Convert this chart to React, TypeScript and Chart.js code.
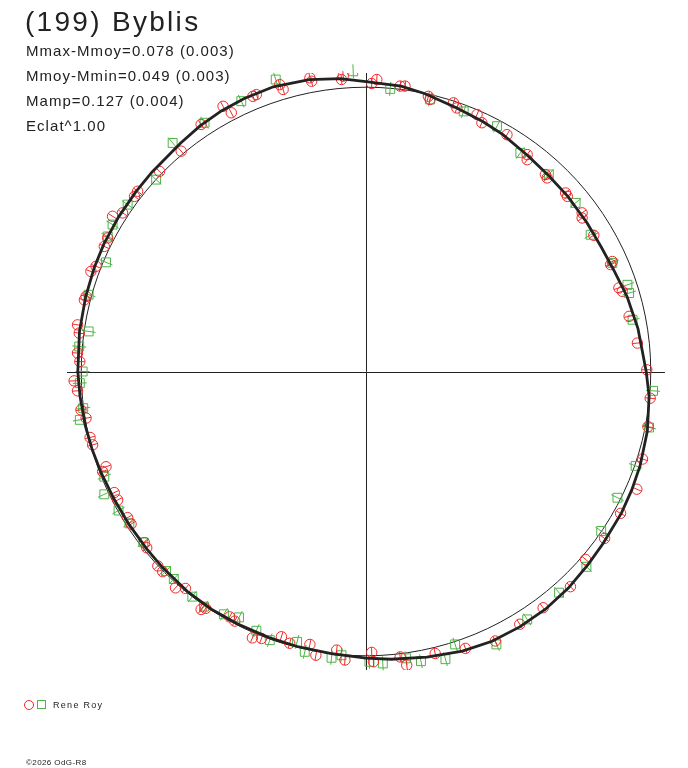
import React, { useEffect, useRef } from "react";
import { Chart, registerables } from "chart.js";

Chart.register(...registerables);

// Fitted light curve (phase in degrees, clockwise from top; relative radius)
const curvePhase = [0, 7, 12, 19, 25, 30, 37, 43, 49, 56, 62, 68, 74, 81, 90, 95, 102, 109, 114, 119, 126, 131, 137, 143, 149, 155, 161, 168, 175, 180, 187, 194, 200, 207, 213, 219, 226, 231, 237, 243, 249, 254, 259, 265, 270, 278, 285, 291, 296, 302, 308, 313, 321, 326, 331, 336, 342, 349, 355, 360];
const curveRadius = [1.020, 1.011, 0.999, 0.980, 0.970, 0.962, 0.948, 0.941, 0.939, 0.936, 0.935, 0.941, 0.954, 0.967, 0.984, 0.998, 1.010, 1.018, 1.022, 1.026, 1.029, 1.034, 1.042, 1.047, 1.048, 1.047, 1.040, 1.027, 1.016, 1.008, 1.000, 0.997, 0.996, 0.996, 0.997, 0.996, 0.993, 0.991, 0.991, 0.992, 0.996, 1.000, 1.004, 1.008, 1.012, 1.016, 1.019, 1.022, 1.024, 1.025, 1.026, 1.028, 1.034, 1.042, 1.048, 1.051, 1.053, 1.046, 1.034, 1.020];

// Observations (red circles) in the polar plane
const redX = [-0.080, -0.197, -0.191, -0.303, -0.291, -0.397, -0.385, -0.502, -0.473, -0.579, -0.649, -0.725, -0.802, -0.813, -0.855, -0.890, -0.907, -0.919, -0.948, -0.966, -0.983, -0.989, -1.013, -1.007, -1.013, -1.005,
  -0.086, 0.020, 0.038, 0.120, 0.137, 0.219, 0.225, 0.307, 0.319, 0.390, 0.407, 0.495, 0.566, 0.566, 0.630, 0.636, 0.701, 0.707, 0.759, 0.759, 0.800, 0.865, 0.859, 0.888, 0.900, 0.924, 0.953, 0.986,
  0.998, 0.990, 0.971, 0.951, 0.894, 0.838, 0.771, 0.718, 0.622, 0.540, 0.454, 0.349, 0.243, 0.143, 0.120, 0.020, 0.026,
  -1.025, -1.013, -1.001, -0.983, -0.969, -0.960, -0.913, -0.925, -0.884, -0.872, -0.837, -0.825, -0.778, -0.770, -0.731, -0.714, -0.669, -0.634, -0.579, -0.563, -0.479, -0.461, -0.399, -0.367, -0.297, -0.268, -0.197, -0.176, -0.103, -0.074];
const redY = [1.039, 1.033, 1.021, 1.009, 0.992, 0.968, 0.974, 0.933, 0.910, 0.869, 0.775, 0.704, 0.634, 0.616, 0.558, 0.546, 0.470, 0.440, 0.370, 0.352, 0.264, 0.252, 0.164, 0.135, 0.065, 0.035,
  1.027, 1.013, 1.027, 1.004, 1.004, 0.968, 0.957, 0.945, 0.927, 0.904, 0.875, 0.833, 0.763, 0.745, 0.693, 0.681, 0.628, 0.616, 0.558, 0.540, 0.479, 0.387, 0.376, 0.294, 0.282, 0.194, 0.100, 0.006,
  -0.094, -0.194, -0.308, -0.414, -0.499, -0.587, -0.661, -0.757, -0.831, -0.889, -0.948, -0.974, -0.992, -1.033, -1.004, -0.988, -1.021,
  -0.033, -0.068, -0.135, -0.164, -0.232, -0.258, -0.335, -0.352, -0.426, -0.452, -0.514, -0.537, -0.602, -0.620, -0.684, -0.704, -0.761, -0.763, -0.837, -0.833, -0.863, -0.878, -0.937, -0.939, -0.933, -0.956, -0.960, -0.998, -0.980, -1.015];

// Observations (green squares)
const greenX = [-0.045, -0.317, -0.438, -0.567, -0.679, -0.737, -0.837, -0.890, -0.907, -0.913, -0.974, -0.974, -1.007, -0.995,
  0.085, 0.225, 0.343, 0.460, 0.542, 0.642, 0.736, 0.789, 0.865, 0.918, 0.924, 0.936,
  1.008, 0.994, 0.947, 0.883, 0.826, 0.774, 0.678, 0.566, 0.458, 0.313, 0.279, 0.193, 0.141, 0.059, 0.012,
  -1.005, -0.993, -1.005, -0.919, -0.919, -0.869, -0.831, -0.782, -0.702, -0.675, -0.610, -0.569, -0.499, -0.446, -0.385, -0.338, -0.242, -0.215, -0.121, -0.086];
const greenY = [1.056, 1.027, 0.951, 0.875, 0.804, 0.675, 0.587, 0.517, 0.475, 0.384, 0.270, 0.141, 0.088, 0.0,
  0.994, 0.957, 0.915, 0.863, 0.769, 0.693, 0.593, 0.481, 0.382, 0.305, 0.276, 0.182,
  -0.068, -0.197, -0.332, -0.444, -0.561, -0.687, -0.778, -0.872, -0.960, -0.960, -1.012, -1.019, -1.009, -1.027, -1.021,
  -0.041, -0.129, -0.170, -0.370, -0.432, -0.489, -0.534, -0.601, -0.702, -0.730, -0.792, -0.827, -0.854, -0.865, -0.912, -0.945, -0.951, -0.986, -1.007, -0.998];

const titleText = "(199) Byblis";
const statLines = ["Mmax-Mmoy=0.078 (0.003)", "Mmoy-Mmin=0.049 (0.003)", "Mamp=0.127 (0.004)", "Eclat^1.00"];
const observerName = "Rene Roy";
const creditText = "\u00A92026 OdG-R8";
const axisLimit = 1.05;

const RED = "#f02828";
const GREEN = "#4fb447";
const INK = "#222222";

const polarFrame = {
  id: "polarFrame",
  beforeDatasetsDraw(chart: any) {
    const { ctx, scales } = chart;
    const xs = scales.x;
    const ys = scales.y;
    const cx = xs.getPixelForValue(0);
    const cy = ys.getPixelForValue(0);
    ctx.save();
    ctx.strokeStyle = INK;
    ctx.lineWidth = 1;
    ctx.beginPath();
    ctx.moveTo(xs.getPixelForValue(-axisLimit), Math.round(cy) + 0.5);
    ctx.lineTo(xs.getPixelForValue(axisLimit), Math.round(cy) + 0.5);
    ctx.moveTo(Math.round(cx) + 0.5, ys.getPixelForValue(axisLimit));
    ctx.lineTo(Math.round(cx) + 0.5, ys.getPixelForValue(-axisLimit));
    ctx.stroke();
    const rx = xs.getPixelForValue(1) - cx;
    const ry = cy - ys.getPixelForValue(1);
    ctx.beginPath();
    ctx.ellipse(cx, cy, rx, ry, 0, 0, Math.PI * 2);
    ctx.stroke();
    ctx.restore();
  },
  afterDatasetDraw(chart: any, args: any) {
    const ds = chart.data.datasets[args.index];
    if (!ds.errLen) return;
    const { ctx, scales } = chart;
    const cx = scales.x.getPixelForValue(0);
    const cy = scales.y.getPixelForValue(0);
    ctx.save();
    ctx.strokeStyle = ds.borderColor;
    ctx.lineWidth = 1;
    ctx.beginPath();
    for (const el of args.meta.data) {
      const dx = el.x - cx;
      const dy = el.y - cy;
      const d = Math.hypot(dx, dy) || 1;
      const ux = (dx / d) * ds.errLen;
      const uy = (dy / d) * ds.errLen;
      ctx.moveTo(el.x - ux, el.y - uy);
      ctx.lineTo(el.x + ux, el.y + uy);
    }
    ctx.stroke();
    ctx.restore();
  },
};

export default function App() {
  const canvasRef = useRef<HTMLCanvasElement | null>(null);

  useEffect(() => {
    const canvas = canvasRef.current;
    if (!canvas) return;
    const curve = curvePhase.map((p, i) => {
      const a = (p * Math.PI) / 180;
      return { x: curveRadius[i] * Math.sin(a), y: curveRadius[i] * Math.cos(a) };
    });
    const red = redX.map((x, i) => ({ x, y: redY[i] }));
    const green = greenX.map((x, i) => ({ x, y: greenY[i] }));

    const chart = new Chart(canvas, {
      type: "scatter",
      data: {
        datasets: [
          {
            type: "line",
            label: "fit",
            data: curve,
            borderColor: INK,
            borderWidth: 2.8,
            pointRadius: 0,
            tension: 0,
            fill: false,
          } as any,
          {
            label: observerName,
            data: red,
            pointStyle: "circle",
            pointRadius: 5.2,
            borderColor: RED,
            backgroundColor: "rgba(0,0,0,0)",
            borderWidth: 1,
            errLen: 5,
          } as any,
          {
            label: observerName + " 2",
            data: green,
            pointStyle: "rect",
            pointRadius: 6.3,
            borderColor: GREEN,
            backgroundColor: "rgba(0,0,0,0)",
            borderWidth: 1,
            errLen: 7,
          } as any,
        ],
      },
      options: {
        responsive: false,
        animation: false,
        devicePixelRatio: 1,
        layout: { padding: { left: 67, right: 23, top: 73, bottom: 98 } },
        scales: {
          x: { type: "linear", min: -axisLimit, max: axisLimit, display: false },
          y: { type: "linear", min: -axisLimit, max: axisLimit, display: false },
        },
        plugins: {
          legend: { display: false },
          tooltip: { enabled: false },
          title: { display: false },
        },
        events: [],
      },
      plugins: [polarFrame],
    });
    return () => chart.destroy();
  }, []);

  const font = '"Liberation Sans", Arial, Helvetica, sans-serif';

  return (
    <div style={{ position: "absolute", left: 0, top: 0, width: 688, height: 768, background: "#fff", overflow: "hidden", fontFamily: font, color: INK }}>
      <canvas ref={canvasRef} width={688} height={768} style={{ position: "absolute", left: 0, top: 0, width: 688, height: 768 }} />
      <div style={{ position: "absolute", left: 25, top: 8, fontSize: 28, lineHeight: "28px", letterSpacing: 2.3, whiteSpace: "nowrap" }}>{titleText}</div>
      <div style={{ position: "absolute", left: 26, top: 38, fontSize: 15, lineHeight: "25px", letterSpacing: 1.05, whiteSpace: "nowrap" }}>
        {statLines.map((s) => (
          <div key={s}>{s}</div>
        ))}
      </div>
      <div style={{ position: "absolute", left: 24, top: 700, width: 10, height: 10, boxSizing: "border-box", border: `1px solid ${RED}`, borderRadius: "50%" }} />
      <div style={{ position: "absolute", left: 37, top: 700, width: 9, height: 9, boxSizing: "border-box", border: `1px solid ${GREEN}` }} />
      <div style={{ position: "absolute", left: 53, top: 701, fontSize: 9, lineHeight: "9px", letterSpacing: 1.3, whiteSpace: "nowrap" }}>{observerName}</div>
      <div style={{ position: "absolute", left: 26, top: 759, fontSize: 8, lineHeight: "8px", letterSpacing: 0.4, whiteSpace: "nowrap" }}>{creditText}</div>
    </div>
  );
}
